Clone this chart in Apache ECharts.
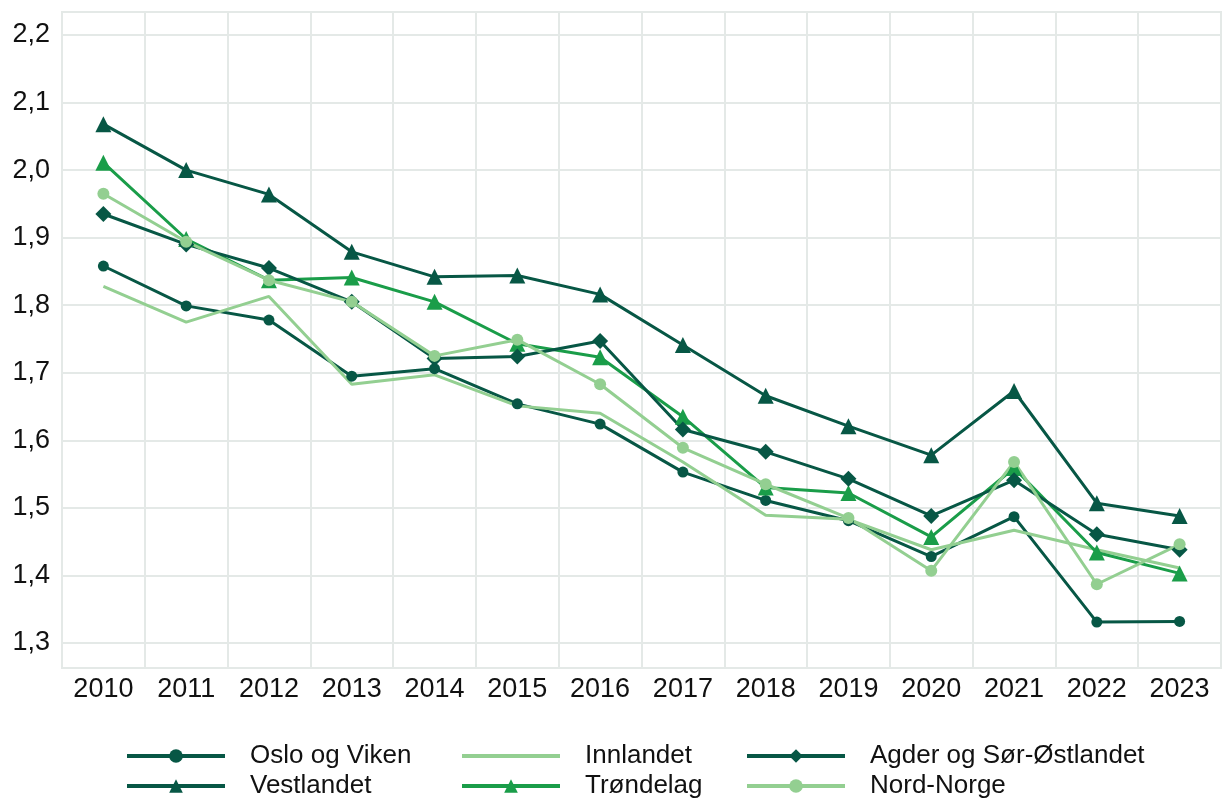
<!DOCTYPE html>
<html>
<head>
<meta charset="utf-8">
<script src="https://cdn.jsdelivr.net/npm/echarts@6/dist/echarts.min.js"></script>
<style>
  html, body { margin: 0; padding: 0; background: #fff; }
  #mChart { width: 1224px; height: 802px; }
</style>
</head>
<body>
<div id="mChart"></div>
<script>
// år
var years = ['2010', '2011', '2012', '2013', '2014', '2015', '2016', '2017', '2018', '2019', '2020', '2021', '2022', '2023'];

// regioner
var osloViken = [1.858, 1.799, 1.778, 1.695, 1.706, 1.654, 1.624, 1.553, 1.511, 1.481, 1.428, 1.487, 1.331, 1.332];
var vestlandet = [2.068, 2.000, 1.964, 1.879, 1.842, 1.844, 1.816, 1.741, 1.666, 1.621, 1.578, 1.673, 1.507, 1.488];
var innlandet = [1.828, 1.775, 1.813, 1.683, 1.697, 1.651, 1.640, 1.568, 1.489, 1.483, 1.438, 1.467, 1.438, 1.411];
var trondelag = [2.011, 1.898, 1.837, 1.841, 1.805, 1.743, 1.723, 1.635, 1.530, 1.522, 1.457, 1.559, 1.434, 1.403];
var agder = [1.935, 1.890, 1.855, 1.805, 1.721, 1.724, 1.747, 1.616, 1.583, 1.543, 1.488, 1.541, 1.461, 1.438];
var nordNorge = [1.965, 1.894, 1.837, 1.805, 1.725, 1.749, 1.683, 1.589, 1.535, 1.485, 1.407, 1.568, 1.387, 1.446];

var dark = '#075745';
var mid = '#1a9d49';
var light = '#93cf91';
var font = 'Liberation Sans, Arial, sans-serif';

function line(name, data, color, symbol, size) {
  return {
    name: name,
    type: 'line',
    data: data,
    symbol: symbol,
    symbolSize: size,
    lineStyle: { width: 3, color: color },
    itemStyle: { color: color },
    emphasis: { disabled: true }
  };
}

var legendBase = {
  orient: 'vertical',
  top: 743,
  padding: 0,
  itemWidth: 98,
  itemHeight: 17,
  itemGap: 4,
  lineStyle: { width: 4 },
  textStyle: { fontSize: 26, color: '#111', fontFamily: font, padding: [0, 0, 0, 20] }
};

var myChart = echarts.init(document.getElementById('mChart'));
myChart.setOption({
  animation: false,
  textStyle: { fontFamily: font },
  grid: {
    left: 62, right: 3, top: 12, bottom: 134,
    show: true, borderColor: '#e4e9e7', borderWidth: 2
  },
  legend: [
    Object.assign({}, legendBase, { left: 125, data: ['Oslo og Viken', 'Vestlandet'] }),
    Object.assign({}, legendBase, { left: 460, data: [{ name: 'Innlandet', itemStyle: { opacity: 0 } }, 'Trøndelag'] }),
    Object.assign({}, legendBase, { left: 745, data: ['Agder og Sør-Østlandet', 'Nord-Norge'] })
  ],
  xAxis: {
    type: 'category',
    data: years,
    boundaryGap: true,
    axisLine: { show: false },
    axisTick: { show: false },
    axisLabel: { fontSize: 27, color: '#111', margin: 8 },
    splitLine: { show: true, lineStyle: { color: '#e4e9e7', width: 2 } }
  },
  yAxis: {
    type: 'value',
    min: 1.263,
    max: 2.234,
    splitNumber: 10,
    axisLine: { show: false },
    axisTick: { show: false },
    axisLabel: {
      fontSize: 27, color: '#111', margin: 12,
      showMinLabel: false, showMaxLabel: false,
      formatter: function (v) { return v.toFixed(1).replace('.', ','); }
    },
    splitLine: { show: true, lineStyle: { color: '#e4e9e7', width: 2 } }
  },
  series: [
    line('Oslo og Viken', osloViken, dark, 'circle', 11),
    line('Vestlandet', vestlandet, dark, 'triangle', 16),
    line('Innlandet', innlandet, light, 'none', 0),
    line('Trøndelag', trondelag, mid, 'triangle', 16),
    line('Agder og Sør-Østlandet', agder, dark, 'diamond', 16),
    line('Nord-Norge', nordNorge, light, 'circle', 12)
  ]
});
</script>
</body>
</html>
